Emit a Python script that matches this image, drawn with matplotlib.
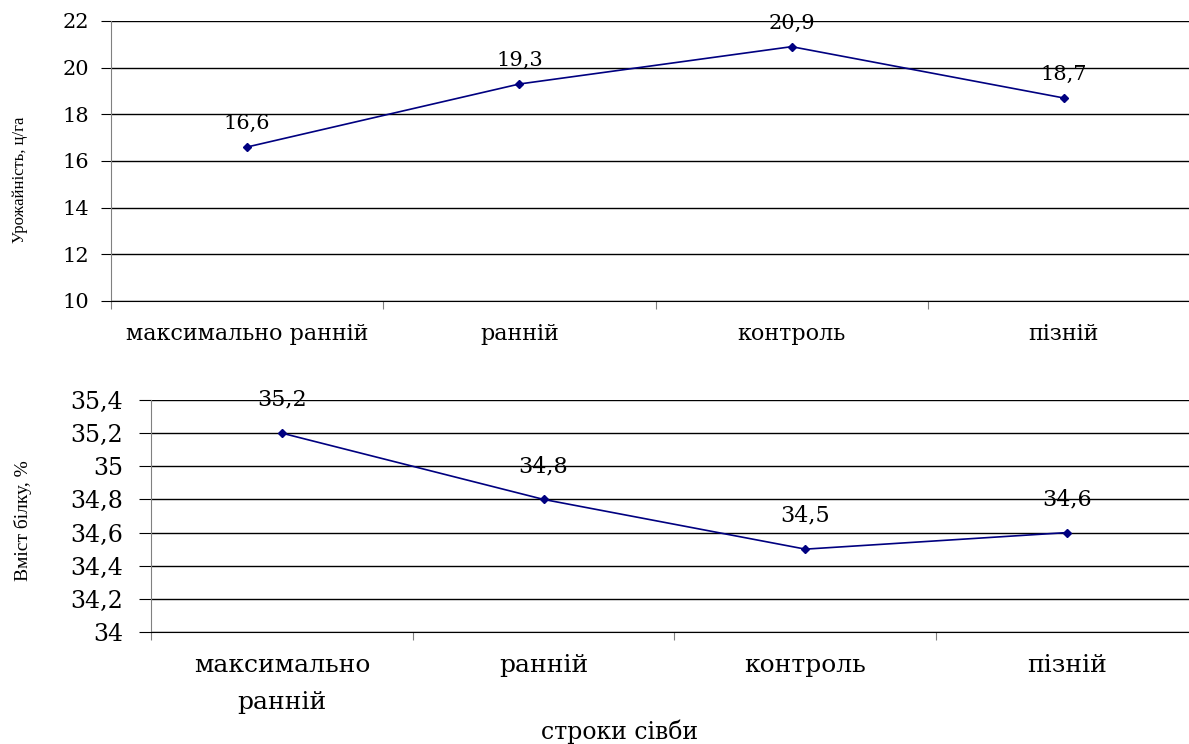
import matplotlib
matplotlib.use("Agg")
from matplotlib import pyplot as plt

# sowing dates and results
terms = ["максимально ранній", "ранній", "контроль", "пізній"]
terms_wrapped = ["максимально\nранній", "ранній", "контроль", "пізній"]
yield_cha = [16.6, 19.3, 20.9, 18.7]
protein = [35.2, 34.8, 34.5, 34.6]

plt.rcParams['font.family'] = ['DejaVu Serif']
W, H = 1189, 744
fig = plt.figure(figsize=(W / 100, H / 100), dpi=100)

def fmt(v):
    s = ("%.1f" % v).rstrip("0").rstrip(".")
    return s.replace(".", ",")

def panel(rect, vals, labels, lo, hi, step, fs, val_fs, lab_fs, ls, ylabel,
          ylab_fs, ylab_pos, off, tlen, tpad):
    l, t, r, b = rect
    ax = fig.add_axes([l / W, 1 - b / H, (r - l) / W, (b - t) / H])
    x = range(len(vals))
    ax.plot(x, vals, color="#000080", lw=1.2, marker="D", ms=4.5)
    for i, v in zip(x, vals):
        ax.annotate(fmt(v), (i, v), xytext=(0, off), textcoords="offset points",
                    ha="center", va="bottom", fontsize=val_fs)
    ax.set_xlim(-0.5, len(vals) - 0.5)
    ax.set_ylim(lo, hi)
    ticks = []
    v = lo
    while v <= hi + 1e-9:
        ticks.append(round(v, 2))
        v += step
    ax.set_yticks(ticks)
    ax.set_yticklabels([fmt(t) for t in ticks], fontsize=fs)
    ax.set_xticks([i - 0.5 for i in range(len(vals) + 1)])
    ax.set_xticklabels([])
    ax.set_xticks(list(x), minor=True)
    ax.set_xticklabels(labels, minor=True, fontsize=lab_fs, linespacing=ls)
    ax.tick_params(axis="x", which="minor", length=0, pad=16)
    ax.tick_params(axis="x", which="major", length=6, color="#808080")
    ax.tick_params(axis="y", length=tlen, color="black", pad=tpad)
    ax.grid(axis="y", color="black", lw=1)
    for s in ("top", "right"):
        ax.spines[s].set_visible(False)
    ax.spines["left"].set_color("#808080")
    ax.spines["bottom"].set_color("black")
    ax.set_ylabel(ylabel, fontsize=ylab_fs, family="Liberation Serif")
    ax.yaxis.set_label_coords(*ylab_pos)
    return ax

panel((111, 21, 1200, 301), yield_cha, terms, 10, 22, 2, 15, 15, 16, 1.1,
      "Урожайність, ц/га", 12, (-83 / 1089, (301 - 180) / 280), 10, 7, 9)
panel((151, 400, 1198, 632), protein, terms_wrapped, 34, 35.4, 0.2, 17, 16, 18, 1.75,
      "Вміст білку, %", 14, (-119 / 1047, 0.48), 16, 9, 11)

fig.text(620 / W, 1 - 739 / H, "строки сівби", ha="center", va="baseline", fontsize=17)

fig.savefig("out.png", dpi=100)
